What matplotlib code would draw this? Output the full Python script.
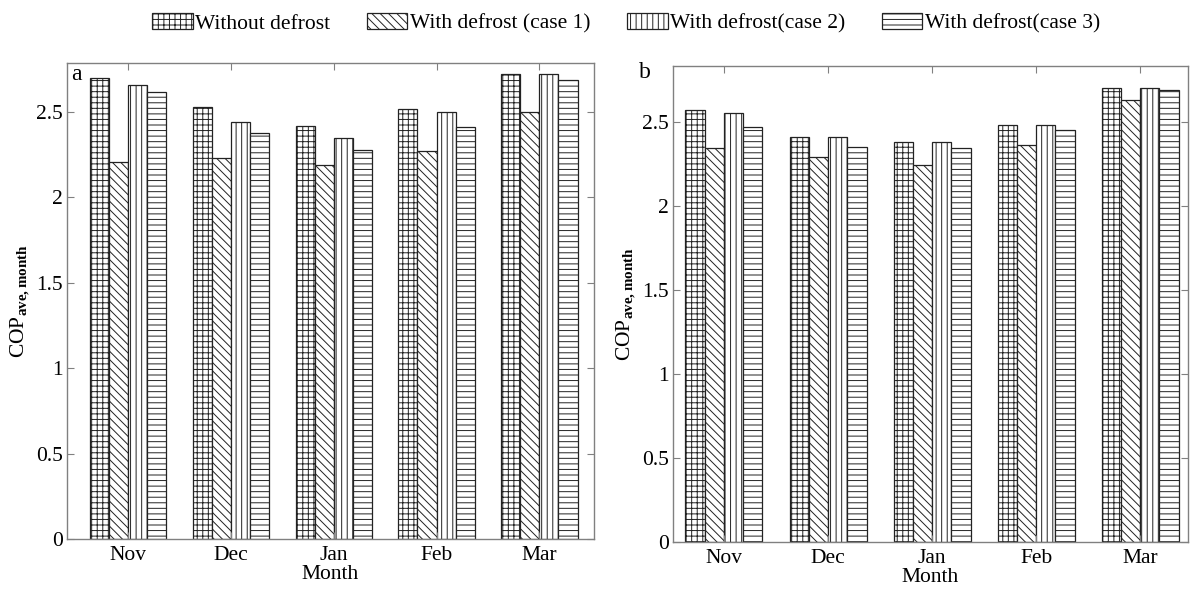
import matplotlib.pyplot as plt
import numpy as np

#%% data

months = ['Nov', 'Dec', 'Jan', 'Feb', 'Mar']
series = ['Without defrost', 'With defrost (case 1)', 'With defrost(case 2)', 'With defrost(case 3)']

# panel a
a_without = [2.70, 2.53, 2.42, 2.52, 2.72]
a_case1   = [2.21, 2.23, 2.19, 2.27, 2.50]
a_case2   = [2.66, 2.44, 2.35, 2.50, 2.72]
a_case3   = [2.62, 2.38, 2.28, 2.41, 2.69]

# panel b
b_without = [2.57, 2.41, 2.38, 2.48, 2.70]
b_case1   = [2.34, 2.29, 2.24, 2.36, 2.63]
b_case2   = [2.55, 2.41, 2.38, 2.48, 2.70]
b_case3   = [2.47, 2.35, 2.34, 2.45, 2.69]

hatches = ['+++', '\\\\\\\\', '|||', '---']

#%% style

plt.rcParams['font.family'] = ['Liberation Serif', 'DejaVu Serif']
plt.rcParams['mathtext.fontset'] = 'custom'
plt.rcParams['mathtext.rm'] = 'Liberation Serif'
plt.rcParams['mathtext.bf'] = 'Liberation Serif:bold'
plt.rcParams['hatch.linewidth'] = 0.7
plt.rcParams['hatch.color'] = '#4d4d4d'

FS = 15.5

fig = plt.figure(figsize=(11.92, 5.89), dpi=100)
W, H = 1192, 589
axa = fig.add_axes([67/W, 1-539/H, (594-67)/W, (539-63)/H])
axb = fig.add_axes([673/W, 1-542/H, (1188-673)/W, (542-66)/H])


def draw_panel(ax, data, xlim, ylim):
    x = np.arange(1, len(months)+1)
    bw = 0.185
    bars = []
    for i, vals in enumerate(data):
        b = ax.bar(x + (i-1.5)*bw, vals, bw, color='white', edgecolor='#222222',
                   linewidth=0.9, hatch=hatches[i], label=series[i])
        bars.append(b)
    ax.set_xlim(xlim)
    ax.set_ylim(ylim)
    ax.set_xticks(x)
    ax.set_xticklabels(months)
    ax.set_yticks([0, 0.5, 1, 1.5, 2, 2.5])
    ax.set_yticklabels(['0', '0.5', '1', '1.5', '2', '2.5'])
    ax.tick_params(direction='in', top=True, right=True, labelsize=FS,
                   length=5, color='#808080', pad=3)
    ax.tick_params(axis='x', pad=5)
    for s in ax.spines.values():
        s.set_color('#808080')
        s.set_linewidth(1.0)
    ax.set_xlabel('Month', fontsize=FS, labelpad=0)
    ax.set_ylabel(r'COP$_{\mathbf{ave,month}}$', fontsize=FS, labelpad=3)
    return bars


bars = draw_panel(axa, [a_without, a_case1, a_case2, a_case3], (0.41, 5.53), (0, 2.787))
draw_panel(axb, [b_without, b_case1, b_case2, b_case3], (0.51, 5.46), (0, 2.83))

fig.text(71/W, 1-75/H, 'a', fontsize=17, ha='left', va='center')
fig.text(645/W, 1-73/H, 'b', fontsize=17, ha='center', va='center')

fig.legend(bars, series, loc='upper center', bbox_to_anchor=(0.525, 1.0), ncol=4,
           frameon=False, fontsize=FS, handlelength=1.9, handleheight=0.8,
           handletextpad=0.1, columnspacing=1.7, borderaxespad=0.2)

plt.savefig('out.png', dpi=100)
